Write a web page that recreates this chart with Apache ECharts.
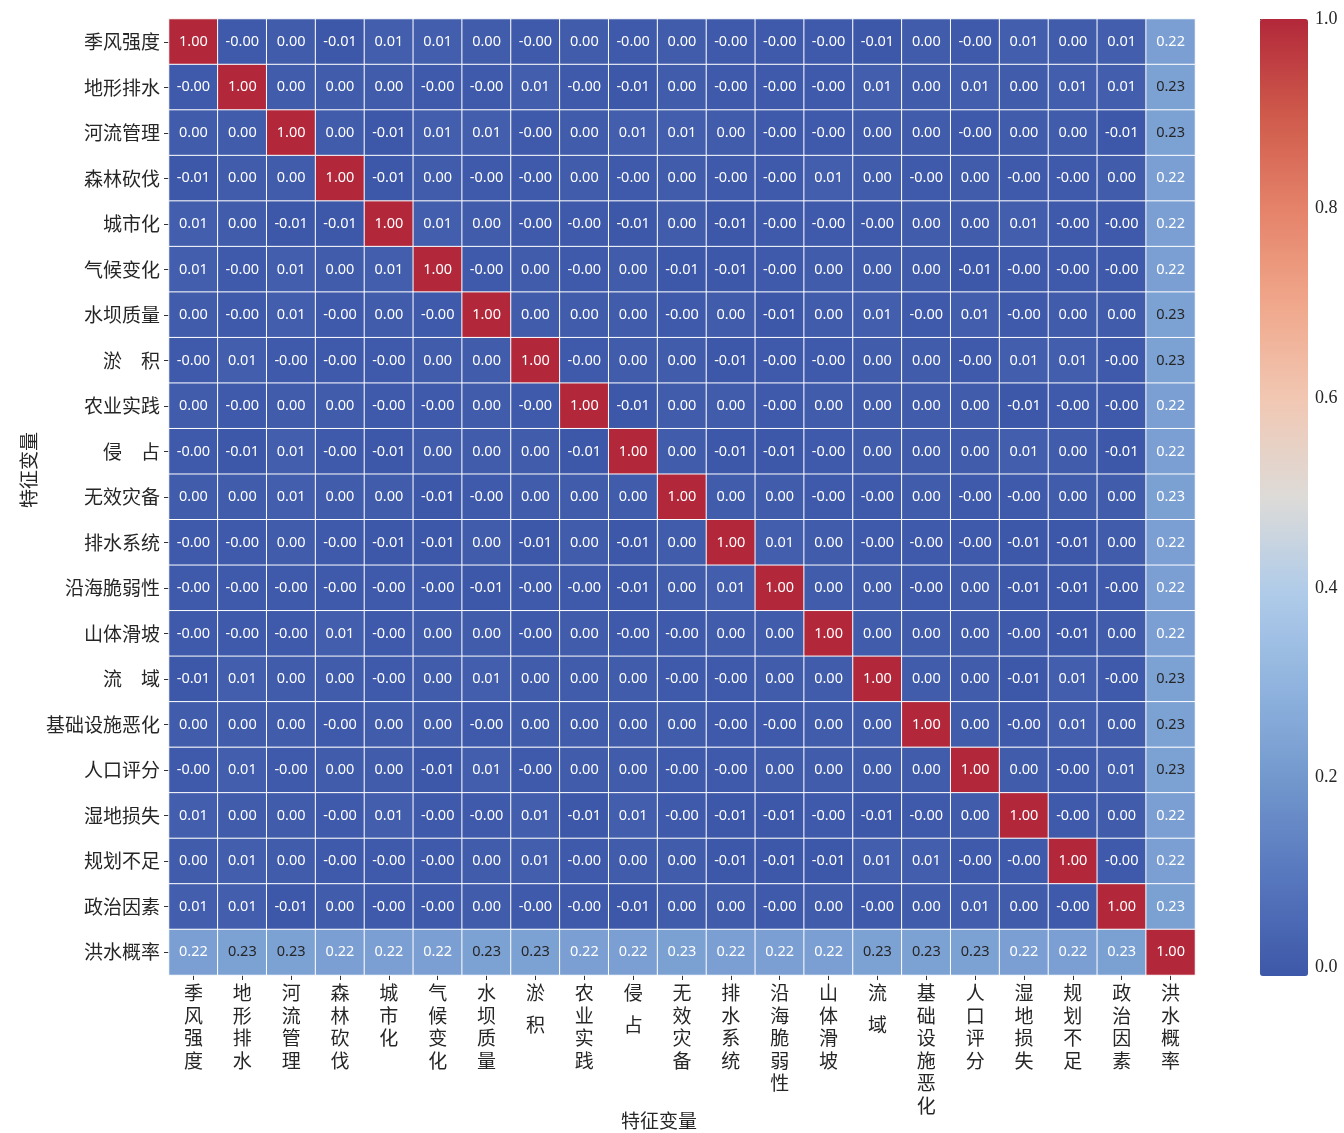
<!DOCTYPE html>
<html>
<head>
<meta charset="utf-8">
<title>特征变量相关性热力图</title>
<script src="https://cdn.jsdelivr.net/npm/echarts@6/dist/echarts.min.js"></script>
<style>
  html, body { margin: 0; padding: 0; background: #fff; }
  #heatmap-chart { width: 1344px; height: 1133px; }
</style>
</head>
<body>
<div id="heatmap-chart"></div>
<script>
// 特征变量（行、列顺序相同）
const features = ['季风强度', '地形排水', '河流管理', '森林砍伐', '城市化', '气候变化', '水坝质量',
  '淤积', '农业实践', '侵占', '无效灾备', '排水系统', '沿海脆弱性', '山体滑坡', '流域',
  '基础设施恶化', '人口评分', '湿地损失', '规划不足', '政治因素', '洪水概率']

// 相关系数矩阵（±0.002 表示显示为 0.00 / -0.00 的很小值）
const corrRows = [
  [1, -0.002, 0.002, -0.01, 0.01, 0.01, 0.002, -0.002, 0.002, -0.002, 0.002, -0.002, -0.002, -0.002, -0.01, 0.002, -0.002, 0.01, 0.002, 0.01, 0.224],
  [-0.002, 1, 0.002, 0.002, 0.002, -0.002, -0.002, 0.01, -0.002, -0.01, 0.002, -0.002, -0.002, -0.002, 0.01, 0.002, 0.01, 0.002, 0.01, 0.01, 0.229],
  [0.002, 0.002, 1, 0.002, -0.01, 0.01, 0.01, -0.002, 0.002, 0.01, 0.01, 0.002, -0.002, -0.002, 0.002, 0.002, -0.002, 0.002, 0.002, -0.01, 0.229],
  [-0.01, 0.002, 0.002, 1, -0.01, 0.002, -0.002, -0.002, 0.002, -0.002, 0.002, -0.002, -0.002, 0.01, 0.002, -0.002, 0.002, -0.002, -0.002, 0.002, 0.224],
  [0.01, 0.002, -0.01, -0.01, 1, 0.01, 0.002, -0.002, -0.002, -0.01, 0.002, -0.01, -0.002, -0.002, -0.002, 0.002, 0.002, 0.01, -0.002, -0.002, 0.224],
  [0.01, -0.002, 0.01, 0.002, 0.01, 1, -0.002, 0.002, -0.002, 0.002, -0.01, -0.01, -0.002, 0.002, 0.002, 0.002, -0.01, -0.002, -0.002, -0.002, 0.224],
  [0.002, -0.002, 0.01, -0.002, 0.002, -0.002, 1, 0.002, 0.002, 0.002, -0.002, 0.002, -0.01, 0.002, 0.01, -0.002, 0.01, -0.002, 0.002, 0.002, 0.229],
  [-0.002, 0.01, -0.002, -0.002, -0.002, 0.002, 0.002, 1, -0.002, 0.002, 0.002, -0.01, -0.002, -0.002, 0.002, 0.002, -0.002, 0.01, 0.01, -0.002, 0.229],
  [0.002, -0.002, 0.002, 0.002, -0.002, -0.002, 0.002, -0.002, 1, -0.01, 0.002, 0.002, -0.002, 0.002, 0.002, 0.002, 0.002, -0.01, -0.002, -0.002, 0.224],
  [-0.002, -0.01, 0.01, -0.002, -0.01, 0.002, 0.002, 0.002, -0.01, 1, 0.002, -0.01, -0.01, -0.002, 0.002, 0.002, 0.002, 0.01, 0.002, -0.01, 0.224],
  [0.002, 0.002, 0.01, 0.002, 0.002, -0.01, -0.002, 0.002, 0.002, 0.002, 1, 0.002, 0.002, -0.002, -0.002, 0.002, -0.002, -0.002, 0.002, 0.002, 0.226],
  [-0.002, -0.002, 0.002, -0.002, -0.01, -0.01, 0.002, -0.01, 0.002, -0.01, 0.002, 1, 0.01, 0.002, -0.002, -0.002, -0.002, -0.01, -0.01, 0.002, 0.224],
  [-0.002, -0.002, -0.002, -0.002, -0.002, -0.002, -0.01, -0.002, -0.002, -0.01, 0.002, 0.01, 1, 0.002, 0.002, -0.002, 0.002, -0.01, -0.01, -0.002, 0.224],
  [-0.002, -0.002, -0.002, 0.01, -0.002, 0.002, 0.002, -0.002, 0.002, -0.002, -0.002, 0.002, 0.002, 1, 0.002, 0.002, 0.002, -0.002, -0.01, 0.002, 0.224],
  [-0.01, 0.01, 0.002, 0.002, -0.002, 0.002, 0.01, 0.002, 0.002, 0.002, -0.002, -0.002, 0.002, 0.002, 1, 0.002, 0.002, -0.01, 0.01, -0.002, 0.229],
  [0.002, 0.002, 0.002, -0.002, 0.002, 0.002, -0.002, 0.002, 0.002, 0.002, 0.002, -0.002, -0.002, 0.002, 0.002, 1, 0.002, -0.002, 0.01, 0.002, 0.229],
  [-0.002, 0.01, -0.002, 0.002, 0.002, -0.01, 0.01, -0.002, 0.002, 0.002, -0.002, -0.002, 0.002, 0.002, 0.002, 0.002, 1, 0.002, -0.002, 0.01, 0.229],
  [0.01, 0.002, 0.002, -0.002, 0.01, -0.002, -0.002, 0.01, -0.01, 0.01, -0.002, -0.01, -0.01, -0.002, -0.01, -0.002, 0.002, 1, -0.002, 0.002, 0.224],
  [0.002, 0.01, 0.002, -0.002, -0.002, -0.002, 0.002, 0.01, -0.002, 0.002, 0.002, -0.01, -0.01, -0.01, 0.01, 0.01, -0.002, -0.002, 1, -0.002, 0.224],
  [0.01, 0.01, -0.01, 0.002, -0.002, -0.002, 0.002, -0.002, -0.002, -0.01, 0.002, 0.002, -0.002, 0.002, -0.002, 0.002, 0.01, 0.002, -0.002, 1, 0.226],
  [0.224, 0.229, 0.229, 0.224, 0.224, 0.224, 0.229, 0.229, 0.224, 0.224, 0.226, 0.224, 0.224, 0.224, 0.229, 0.229, 0.229, 0.224, 0.224, 0.226, 1]
]

// 色条刻度
const colorbarTicks = [0, 0.2, 0.4, 0.6, 0.8, 1.0]

const cjkFont = '"Noto Sans CJK SC", "Noto Sans", sans-serif'
const textDark = '#262626'

// coolwarm 色带
const coolwarm = ['#3d58a8', '#5676bd', '#7196cc', '#8fb3de', '#afcbe9', '#dddbd8',
  '#f1c8b4', '#f0a88c', '#e5836a', '#cf5a4b', '#b2283a']

const heatData = []
corrRows.forEach((row, y) => {
  row.forEach((v, x) => {
    heatData.push({
      value: [x, y, v],
      label: { color: v > 0.228 && v < 0.7 ? textDark : '#ffffff' }
    })
  })
})

const chart = echarts.init(document.getElementById('heatmap-chart'))
const option = {
  animation: false,
  grid: [
    { left: 169, top: 19, width: 1026, height: 956, outerBoundsMode: 'none' },
    { left: 1260, top: 19, width: 48, height: 948, outerBoundsMode: 'none' }
  ],
  xAxis: [
    {
      type: 'category',
      gridIndex: 0,
      data: features,
      position: 'bottom',
      name: '特征变量',
      nameLocation: 'middle',
      nameGap: 136,
      nameMoveOverlap: false,
      nameTextStyle: { fontFamily: cjkFont, fontSize: 19, color: textDark, padding: [0, 46, 0, 0] },
      axisLine: { show: false },
      axisTick: { show: true, alignWithLabel: true, length: 5, lineStyle: { color: '#333' } },
      splitLine: { show: false },
      axisLabel: {
        interval: 0,
        margin: 7,
        fontFamily: cjkFont,
        fontSize: 19,
        color: textDark,
        lineHeight: 22.5,
        formatter: function (name) {
          const chars = name.split('')
          if (chars.length === 2) {
            return '{c|' + chars[0] + '}\n{s| }\n{c|' + chars[1] + '}'
          }
          return chars.map(c => '{c|' + c + '}').join('\n')
        },
        rich: {
          c: { fontFamily: cjkFont, fontSize: 19, lineHeight: 22.5, color: textDark },
          s: { fontSize: 6, lineHeight: 9 }
        }
      }
    },
    { type: 'value', gridIndex: 1, show: false, min: 0, max: 1 }
  ],
  yAxis: [
    {
      type: 'category',
      gridIndex: 0,
      data: features,
      inverse: true,
      name: '特征变量',
      nameLocation: 'middle',
      nameRotate: 90,
      nameGap: 131,
      nameMoveOverlap: false,
      nameTextStyle: { fontFamily: cjkFont, fontSize: 19, color: textDark, padding: [0, 0, 0, 54] },
      axisLine: { show: false },
      axisTick: { show: true, alignWithLabel: true, length: 5, lineStyle: { color: '#333' } },
      splitLine: { show: false },
      axisLabel: {
        interval: 0,
        margin: 9,
        fontFamily: cjkFont,
        fontSize: 19,
        color: textDark,
        formatter: function (name) {
          return name.length === 2 ? name[0] + '\u3000' + name[1] : name
        }
      }
    },
    {
      type: 'value',
      gridIndex: 1,
      position: 'right',
      min: 0,
      max: 1,
      interval: 0.2,
      axisLine: { show: false },
      axisTick: { show: true, length: 5, lineStyle: { color: '#333' } },
      splitLine: { show: false },
      axisLabel: {
        margin: 7,
        fontFamily: '"Liberation Serif", "DejaVu Serif", serif',
        fontSize: 18,
        color: textDark,
        formatter: v => v.toFixed(1)
      },
      data: colorbarTicks
    }
  ],
  visualMap: {
    type: 'continuous',
    seriesIndex: 0,
    min: -0.01,
    max: 1,
    calculable: false,
    orient: 'vertical',
    left: 1260,
    top: 19,
    padding: 0,
    itemWidth: 48,
    itemHeight: 957,
    text: null,
    showLabel: false,
    inRange: { color: coolwarm }
  },
  series: [
    {
      type: 'heatmap',
      xAxisIndex: 0,
      yAxisIndex: 0,
      data: heatData,
      itemStyle: { borderColor: '#ffffff', borderWidth: 1 },
      label: {
        show: true,
        fontFamily: '"Noto Sans", "Open Sans", sans-serif',
        fontSize: 14.5,
        formatter: p => p.value[2].toFixed(2)
      },
      emphasis: { disabled: true }
    }
  ]
}
chart.setOption(option)
</script>
</body>
</html>
